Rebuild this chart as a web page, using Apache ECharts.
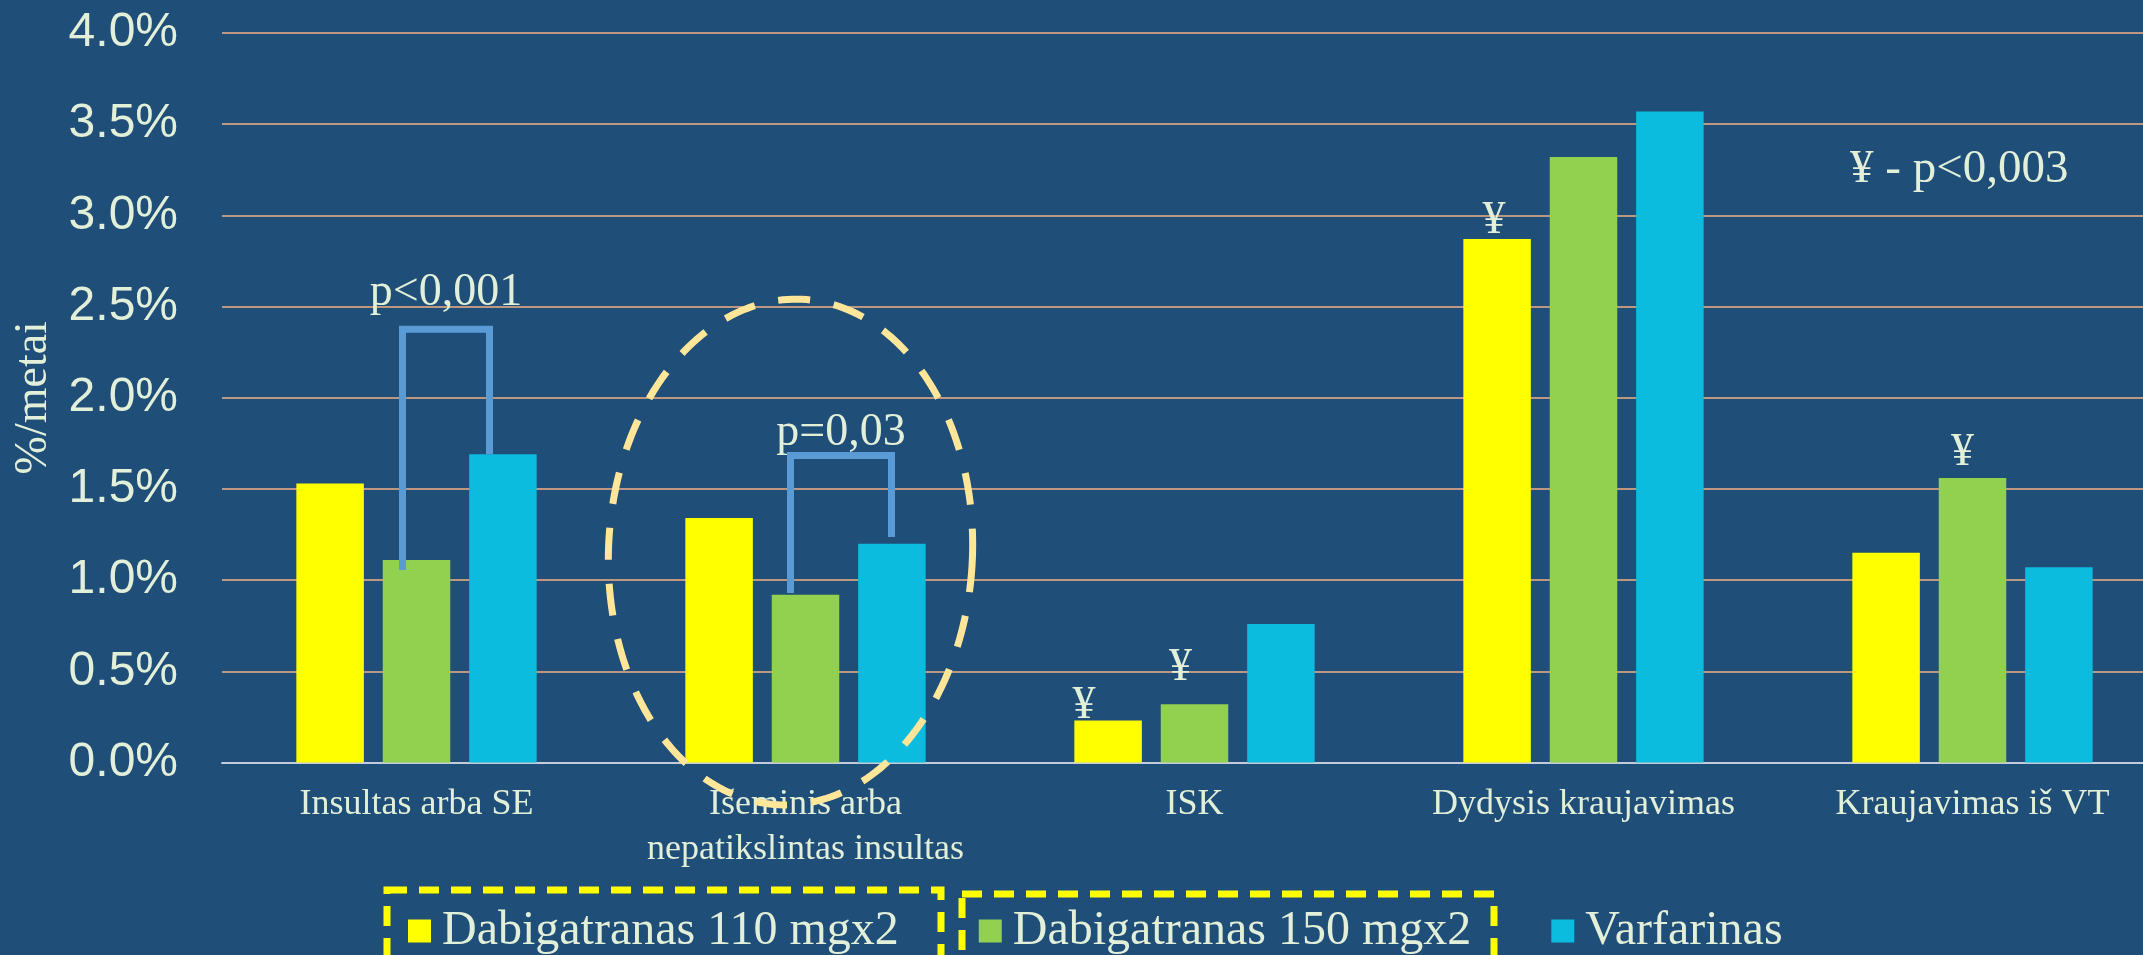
<!DOCTYPE html>
<html>
<head>
<meta charset="utf-8">
<script src="https://cdn.jsdelivr.net/npm/echarts@6/dist/echarts.min.js"></script>
<style>
  html, body { margin: 0; padding: 0; width: 2143px; height: 955px; overflow: hidden; background: #1F4E79; }
  #chart { width: 2170px; height: 955px; }
</style>
</head>
<body>
<div id="chart"></div>
<script>
// Event rates, % per year
const categories = ['Insultas arba SE', 'Išeminis arba\nnepatikslintas insultas', 'ISK', 'Dydysis kraujavimas', 'Kraujavimas iš VT'];
const seriesNames = ['Dabigatranas 110 mgx2', 'Dabigatranas 150 mgx2', 'Varfarinas'];
const dabigatran110 = [1.53, 1.34, 0.23, 2.87, 1.15];
const dabigatran150 = [1.11, 0.92, 0.32, 3.32, 1.56];
const varfarinas = [1.69, 1.20, 0.76, 3.57, 1.07];
const yMin = 0, yMax = 4, yStep = 0.5;

// Significance markers: [series index, category index]
const yenMarks = [[0, 2], [1, 2], [0, 3], [1, 4]];
const yenNote = '¥ - p<0,003';

// Comparison brackets (values on the % scale)
const brackets = [
  { cat: 0, top: 2.375, leftEnd: 1.055, rightEnd: 1.69, textAt: 2.52, text: 'p<0,001' },
  { cat: 1, top: 1.683, leftEnd: 0.93, rightEnd: 1.236, textAt: 1.753, text: 'p=0,03' }
];
// Highlighted group (category index, centre value)
const highlight = { cat: 1, center: 1.154 };

// ---- styling / layout ----
const TEXT = '#E2EFD9';
const SERIF = '"Liberation Serif", "Times New Roman", serif';
const SANS = '"Liberation Sans", Arial, sans-serif';
const COLORS = ['#FFFF00', '#92D050', '#0CBCDF'];
const yenOffsets = [[-24, 8], [-14, -13], [-3, 5], [-10, -2]];
const bracketLegsPx = [[-14, 73], [-15, 86]];

function barData(values, sIdx) {
  return values.map((v, c) => {
    const m = yenMarks.findIndex(([s, cc]) => s === sIdx && cc === c);
    if (m < 0) return v;
    return {
      value: v,
      label: {
        show: true, position: 'top', distance: 0, formatter: '¥',
        offset: yenOffsets[m], color: TEXT, fontFamily: SERIF, fontSize: 46
      }
    };
  });
}

const chart = echarts.init(document.getElementById('chart'));
const allSeries = [dabigatran110, dabigatran150, varfarinas].map((vals, i) => ({
  name: seriesNames[i],
  type: 'bar',
  data: barData(vals, i),
  barWidth: 67.5,
  barGap: '28%',
  itemStyle: { color: COLORS[i] },
  emphasis: { disabled: true },
  z: 2
}));

allSeries.push({
  type: 'custom',
  name: 'brackets',
  z: 5,
  silent: true,
  data: brackets.map(b => [b.cat, b.top, b.leftEnd, b.rightEnd, b.textAt]),
  renderItem(params, api) {
    const cat = api.value(0);
    const cx = api.coord([cat, 0])[0];
    const legs = bracketLegsPx[params.dataIndex];
    const xL = cx + legs[0], xR = cx + legs[1];
    const yTop = api.coord([cat, api.value(1)])[1];
    const yL = api.coord([cat, api.value(2)])[1];
    const yR = api.coord([cat, api.value(3)])[1];
    const yT = api.coord([cat, api.value(4)])[1];
    return {
      type: 'group',
      children: [
        { type: 'polyline', shape: { points: [[xL, yL], [xL, yTop], [xR, yTop], [xR, yR]] },
          style: { stroke: '#5B9BD5', lineWidth: 7, fill: null, lineJoin: 'miter', lineCap: 'butt' } },
        { type: 'text', style: { text: brackets[params.dataIndex].text, x: (xL + xR) / 2, y: yT - 10,
          align: 'center', verticalAlign: 'middle', fill: TEXT, font: '46px ' + SERIF } }
      ]
    };
  }
});

allSeries.push({
  type: 'custom',
  name: 'highlight',
  z: 6,
  silent: true,
  data: [[highlight.cat, highlight.center]],
  renderItem(params, api) {
    const c = api.coord([api.value(0), api.value(1)]);
    const cx = c[0] - 15, cy = c[1];
    const rx = 182, ry = 253, phi = 0.045;
    const pts = [];
    for (let k = 0; k < 240; k++) {
      const t = (k / 240) * Math.PI * 2;
      const ex = rx * Math.cos(t), ey = ry * Math.sin(t);
      pts.push([cx + ex * Math.cos(phi) - ey * Math.sin(phi), cy + ex * Math.sin(phi) + ey * Math.cos(phi)]);
    }
    return {
      type: 'polygon', shape: { points: pts },
      style: { stroke: '#FFE699', lineWidth: 7, fill: null, lineDash: [32, 24] }
    };
  }
});

chart.setOption({
  backgroundColor: '#1F4E79',
  animation: false,
  grid: { left: 222, right: 3, top: 33, bottom: 192.5 },
  xAxis: {
    type: 'category',
    data: categories,
    axisTick: { show: false },
    axisLine: { lineStyle: { color: '#C3CCD8', width: 2 } },
    axisLabel: { interval: 0, color: TEXT, fontFamily: SERIF, fontSize: 36, lineHeight: 45, margin: 20 }
  },
  yAxis: {
    type: 'value',
    min: yMin, max: yMax, interval: yStep,
    name: '%/metai',
    nameLocation: 'middle',
    nameRotate: 90,
    nameGap: 165,
    nameTextStyle: { color: TEXT, fontFamily: SERIF, fontSize: 46 },
    axisLine: { show: false },
    axisTick: { show: false },
    axisLabel: { color: TEXT, fontFamily: SANS, fontSize: 48, margin: 44, formatter: v => v.toFixed(1) + '%' },
    splitLine: { lineStyle: { color: '#F4B183', width: 1.5 } }
  },
  legend: {
    data: seriesNames,
    left: 408, top: 903,
    padding: 0,
    itemWidth: 23, itemHeight: 23, itemGap: 80,
    icon: 'rect',
    selectedMode: false,
    textStyle: { color: TEXT, fontFamily: SERIF, fontSize: 48, lineHeight: 56, padding: [0, 0, 0, 6] }
  },
  graphic: [
    { type: 'text', left: 1850, top: 146, silent: true,
      style: { text: yenNote, fill: TEXT, font: '47px ' + SERIF } },
    { type: 'rect', silent: true, shape: { x: 387, y: 890, width: 554, height: 120 },
      style: { stroke: '#FFFF00', lineWidth: 7, fill: null, lineDash: [20, 12] } },
    { type: 'rect', silent: true, shape: { x: 962, y: 894, width: 532, height: 120 },
      style: { stroke: '#FFFF00', lineWidth: 7, fill: null, lineDash: [20, 12] } }
  ],
  series: allSeries
});
</script>
</body>
</html>
